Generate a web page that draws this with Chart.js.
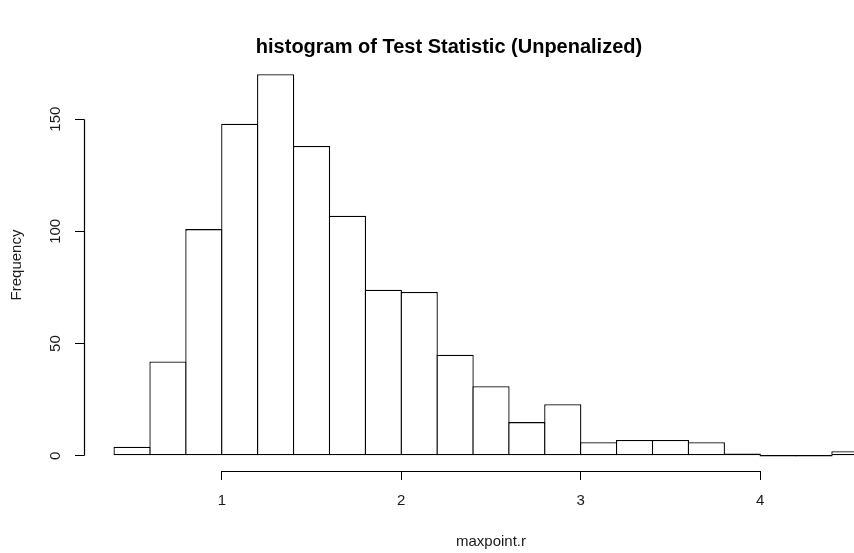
<!DOCTYPE html>
<html>
<head>
<meta charset="utf-8">
<script src="https://cdn.jsdelivr.net/npm/chart.js@4.4.1/dist/chart.umd.min.js"></script>
<style>
  html, body { margin: 0; padding: 0; background: #fff; }
  #wrap { width: 854px; height: 553px; overflow: hidden; position: relative; }
  canvas { display: block; }
</style>
</head>
<body>
<div id="wrap"><canvas id="hist" width="982" height="553"></canvas></div>
<script>
// Histogram bins (left/right edges) and counts per bin
const binLeft  = [0.4, 0.6, 0.8, 1.0, 1.2, 1.4, 1.6, 1.8, 2.0, 2.2, 2.4, 2.6, 2.8, 3.0, 3.2, 3.4, 3.6, 3.8, 4.0, 4.2, 4.4];
const binRight = [0.6, 0.8, 1.0, 1.2, 1.4, 1.6, 1.8, 2.0, 2.2, 2.4, 2.6, 2.8, 3.0, 3.2, 3.4, 3.6, 3.8, 4.0, 4.2, 4.4, 4.6];
const counts   = [4, 42, 101, 148, 170, 138, 107, 74, 73, 45, 31, 15, 23, 6, 7, 7, 6, 1, 0, 0, 2];

// Axis ticks
const xTicks = [1, 2, 3, 4];
const yTicks = [0, 50, 100, 150];

const titleText = 'histogram of Test Statistic (Unpenalized)';
const xLabel = 'maxpoint.r';
const yLabel = 'Frequency';

Chart.defaults.font.family = '"Liberation Sans", Arial, Helvetica, sans-serif';
Chart.defaults.color = '#1a1a1a';

const points = counts.map((c, i) => ({ x: (binLeft[i] + binRight[i]) / 2, y: c }));

// Axis ranges padded 4% beyond the data, as in base R graphics
const xMinData = binLeft[0], xMaxData = binRight[binRight.length - 1];
const xPad = (xMaxData - xMinData) * 0.04;
const yMaxData = Math.max(...counts);
const yPad = yMaxData * 0.04;

// Outline width; neighbouring bars overlap by this much so shared edges coincide
const edge = 1.3;

// Axis line running only between the first and last tick
const axisLines = {
  id: 'axisLines',
  afterDraw(chart) {
    const { ctx, chartArea, scales } = chart;
    ctx.save();
    ctx.strokeStyle = '#000';
    ctx.lineWidth = 1.2;
    ctx.beginPath();
    const yb = Math.round(chartArea.bottom) + 0.5;
    ctx.moveTo(scales.x.getPixelForValue(xTicks[0]), yb);
    ctx.lineTo(scales.x.getPixelForValue(xTicks[xTicks.length - 1]), yb);
    const xl = Math.round(chartArea.left) + 0.5;
    ctx.moveTo(xl, scales.y.getPixelForValue(yTicks[0]));
    ctx.lineTo(xl, scales.y.getPixelForValue(yTicks[yTicks.length - 1]));
    ctx.stroke();
    ctx.restore();
  }
};

new Chart(document.getElementById('hist'), {
  type: 'bar',
  data: {
    datasets: [{
      data: points,
      backgroundColor: '#ffffff',
      borderColor: '#000000',
      borderWidth: edge,
      borderSkipped: false,
      minBarLength: edge,
      barPercentage: 1 + edge / 35.86,
      categoryPercentage: 1.0,
      grouped: false
    }]
  },
  plugins: [axisLines],
  options: {
    responsive: false,
    animation: false,
    devicePixelRatio: 1,
    layout: { padding: { left: 0, right: 84, top: 0, bottom: 0 } },
    plugins: {
      legend: { display: false },
      tooltip: { enabled: false },
      title: {
        display: true,
        text: titleText,
        color: '#000',
        font: { size: 20, weight: 'bold' },
        padding: { top: 35, bottom: 0 }
      }
    },
    scales: {
      x: {
        type: 'linear',
        offset: false,
        min: xMinData - xPad,
        max: xMaxData + xPad,
        afterBuildTicks: (s) => { s.ticks = xTicks.map(v => ({ value: v })); },
        afterFit: (s) => { s.height = 82; },
        grid: { offset: false, drawOnChartArea: false, drawTicks: true, tickLength: 9, color: '#000', lineWidth: 1 },
        border: { display: false },
        ticks: { font: { size: 15 }, padding: 12, maxRotation: 0, autoSkip: false },
        title: { display: true, text: xLabel, font: { size: 15 }, padding: { top: 0, bottom: 2 } }
      },
      y: {
        type: 'linear',
        min: -yPad,
        max: yMaxData + yPad,
        afterBuildTicks: (s) => { s.ticks = yTicks.map(v => ({ value: v })); },
        afterFit: (s) => { s.width = 84; },
        grid: { drawOnChartArea: false, drawTicks: true, tickLength: 9, color: '#000', lineWidth: 1 },
        border: { display: false },
        ticks: { font: { size: 15 }, padding: 7, minRotation: 90, maxRotation: 90, crossAlign: 'center', autoSkip: false },
        title: { display: true, text: yLabel, font: { size: 15 }, padding: { top: 8, bottom: 0 } }
      }
    }
  }
});
</script>
</body>
</html>
